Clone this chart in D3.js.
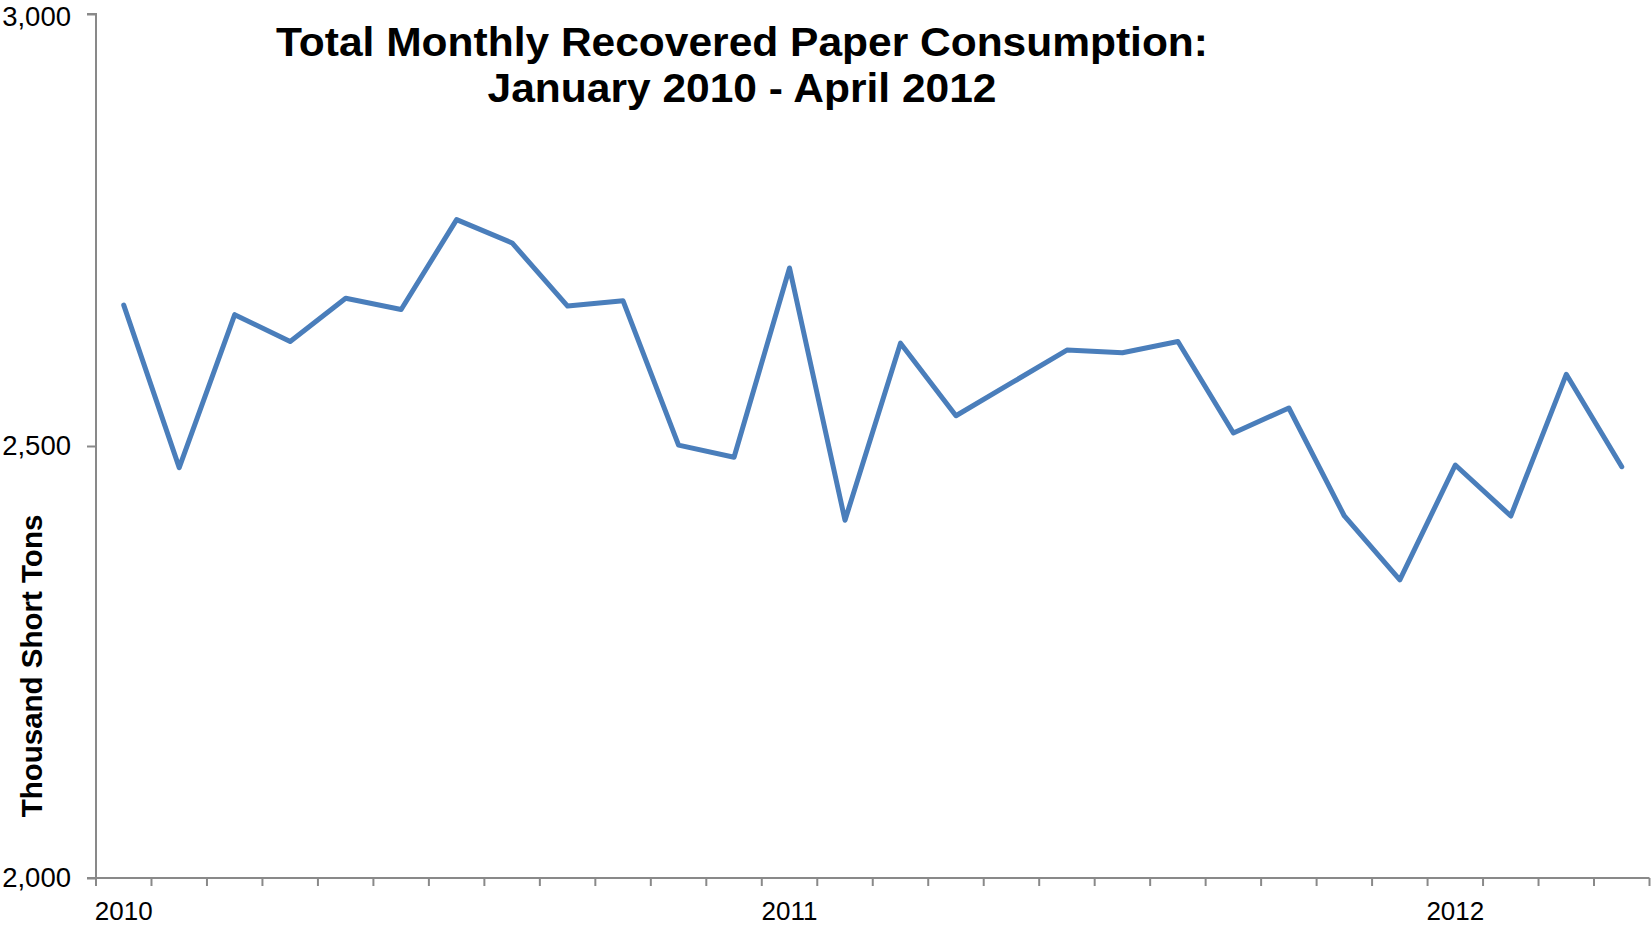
<!DOCTYPE html>
<html>
<head>
<meta charset="utf-8">
<script src="https://cdn.jsdelivr.net/npm/d3@7"></script>
<style>
  html, body { margin: 0; padding: 0; background: #fff; }
  svg { display: block; font-family: "Liberation Sans", Arial, sans-serif; }
</style>
</head>
<body>
<svg id="chart" width="1652" height="928"></svg>
<script>
// ---- data ----
const months = [
  "Jan 2010","Feb 2010","Mar 2010","Apr 2010","May 2010","Jun 2010",
  "Jul 2010","Aug 2010","Sep 2010","Oct 2010","Nov 2010","Dec 2010",
  "Jan 2011","Feb 2011","Mar 2011","Apr 2011","May 2011","Jun 2011",
  "Jul 2011","Aug 2011","Sep 2011","Oct 2011","Nov 2011","Dec 2011",
  "Jan 2012","Feb 2012","Mar 2012","Apr 2012"
];
const consumption = [
  2663, 2475, 2652, 2621, 2671, 2658, 2762, 2735, 2662, 2668, 2501, 2487,
  2706, 2414, 2619, 2535, 2573, 2611, 2608, 2621, 2515, 2544, 2419, 2345,
  2478, 2419, 2583, 2476
];
const yearLabelMonths = ["Jan 2010", "Jan 2011", "Jan 2012"];
const yearLabels = ["2010", "2011", "2012"];
const yTicks = [2000, 2500, 3000];
const titleLines = ["Total Monthly Recovered Paper Consumption:", "January 2010 - April 2012"];
const yTitle = "Thousand Short Tons";

// ---- layout ----
const plotLeft = 96, plotRight = 1649.5, plotTop = 14, plotBottom = 878;
const axisColor = "#898989";
const lineColor = "#4a7ebb";

const svg = d3.select("#chart");

const x = d3.scaleBand().domain(months).range([plotLeft, plotRight]).padding(0);
const y = d3.scaleLinear().domain([2000, 3000]).range([plotBottom, plotTop]);

// Y axis
const yAxis = d3.axisLeft(y).tickValues(yTicks).tickSize(9).tickPadding(16)
  .tickFormat(d3.format(","));
const gy = svg.append("g").attr("transform", `translate(${plotLeft},0)`).call(yAxis);
gy.select(".domain").attr("stroke", axisColor).attr("stroke-width", 2)
  .attr("d", `M-9,${plotTop}H0V${plotBottom}H-9`);
gy.selectAll(".tick line").attr("stroke", axisColor).attr("stroke-width", 2);
gy.selectAll(".tick text").attr("fill", "#000").style("font-size", "27.5px")
  .style("font-family", "'Liberation Sans', Arial, sans-serif")
  .attr("dy", d => d === 3000 ? "0.42em" : "0.32em");

// X axis line and ticks at band boundaries
const boundaries = months.map(m => x(m)).concat([x(months[months.length - 1]) + x.bandwidth()]);
const gx = svg.append("g");
gx.append("line").attr("x1", plotLeft).attr("x2", plotRight).attr("y1", plotBottom).attr("y2", plotBottom)
  .attr("stroke", axisColor).attr("stroke-width", 2);
gx.selectAll("line.tick").data(boundaries).join("line").attr("class", "tick")
  .attr("x1", d => d).attr("x2", d => d).attr("y1", plotBottom).attr("y2", plotBottom + 8)
  .attr("stroke", axisColor).attr("stroke-width", 2);
gx.selectAll("text").data(yearLabelMonths).join("text")
  .attr("x", d => x(d) + x.bandwidth() / 2)
  .attr("y", 920)
  .attr("text-anchor", "middle")
  .style("font-size", "26px")
  .attr("fill", "#000")
  .text((d, i) => yearLabels[i]);

// Line
const line = d3.line()
  .x((d, i) => x(months[i]) + x.bandwidth() / 2)
  .y(d => y(d));
svg.append("path").datum(consumption)
  .attr("d", line)
  .attr("fill", "none")
  .attr("stroke", lineColor)
  .attr("stroke-width", 5)
  .attr("stroke-linejoin", "round")
  .attr("stroke-linecap", "round");

// Title
const titleWidths = [932, 509];
const titleBaselines = [56, 102];
svg.selectAll("text.title").data(titleLines).join("text").attr("class", "title")
  .attr("x", 742)
  .attr("y", (d, i) => titleBaselines[i])
  .attr("text-anchor", "middle")
  .attr("textLength", (d, i) => titleWidths[i])
  .attr("lengthAdjust", "spacingAndGlyphs")
  .style("font-size", "41px")
  .style("font-weight", "bold")
  .attr("fill", "#000")
  .text(d => d);

// Y axis title
svg.append("text")
  .attr("transform", "translate(42,666) rotate(-90)")
  .attr("text-anchor", "middle")
  .style("font-size", "29.5px")
  .style("font-weight", "bold")
  .attr("fill", "#000")
  .text(yTitle);
</script>
</body>
</html>
